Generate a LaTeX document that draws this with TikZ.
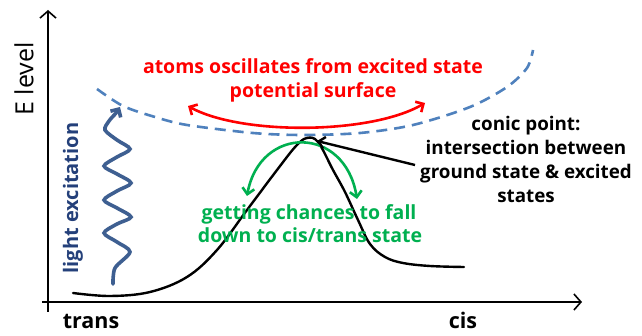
\documentclass[tikz,border=0pt]{standalone}
\usepackage{fontspec}
\setmainfont{Open Sans}
\usetikzlibrary{arrows.meta}
\definecolor{cred}{RGB}{255,0,0}
\definecolor{cgreen}{RGB}{0,176,80}
\definecolor{cdash}{RGB}{79,129,189}
\definecolor{cwave}{RGB}{62,95,145}
\definecolor{cnavy}{RGB}{36,64,122}
\begin{document}
\begin{tikzpicture}[x=1pt,y=-1pt,
  txt/.style={font=\fontsize{19.5}{24}\selectfont\bfseries, inner sep=0pt, anchor=base},
  btxt/.style={font=\fontsize{18.8}{24}\selectfont\bfseries, inner sep=0pt, anchor=base},
  axtxt/.style={font=\fontsize{21.5}{26}\selectfont\bfseries, inner sep=0pt, anchor=base},
  axisline/.style={line width=1.6pt, black},
  axisarrow/.style={axisline, -{Straight Barb[length=7pt,width=16pt,line width=1.6pt]}},
  curveline/.style={line width=2.4pt, black, line cap=round},
  surface/.style={line width=2.6pt, cdash, dash pattern=on 11pt off 7pt},
  redarrow/.style={line width=2.6pt, cred, {Straight Barb[length=6pt,width=12pt]}-{Straight Barb[length=6pt,width=12pt]}},
  greenarrow/.style={line width=2.6pt, cgreen, {Straight Barb[length=6pt,width=12pt]}-{Straight Barb[length=6pt,width=12pt]}},
  blackarrow/.style={line width=2.4pt, black, -{Straight Barb[length=6pt,width=12pt]}},
  wave/.style={line width=3.6pt, cwave, line cap=round, -{Straight Barb[length=6pt,width=12pt]}}
]
\useasboundingbox (0,0) rectangle (642,336);
\fill[white] (0,0) rectangle (642,336);

% axes
\coordinate (ybot) at (48,312);
\coordinate (ytop) at (48,10);
\coordinate (xleft) at (42,302);
\coordinate (xright) at (582,302);
\draw[axisarrow] (ybot) -- (ytop);
\draw[axisarrow] (xleft) -- (xright);

% axis labels
\node[font=\fontsize{25}{28}\selectfont, inner sep=0pt, rotate=90] (elevel) at (24,79) {E level};
\node[axtxt] (trans) at (91,329) {trans};
\node[axtxt] (cis) at (463,329) {cis};

% excited state surface
\draw[surface] plot[smooth] coordinates {(97,89) (123,106) (155,117) (187,125) (253,133) (303,135) (360,133) (413,125) (470,107) (507,87) (527,68) (533,50)};

% ground state curve
\draw[curveline] plot[smooth, tension=0.6] coordinates {(73,293) (110,296) (150,292) (187,277) (217,250) (247,210) (277,170) (296,146) (307,138) (318,142) (333,170) (345,192) (358,220) (370,244) (385,257) (403,263) (430,266) (464,267)};

% red oscillation arrow
\coordinate (rl) at (188,106);
\coordinate (rr) at (425,103);
\draw[redarrow] (rl) .. controls (240,135) and (370,135) .. (rr);
\node[txt, text=cred] (red1) at (313,74) {atoms oscillates from excited state};
\node[txt, text=cred] (red2) at (313,98) {potential surface};

% green arrow
\coordinate (gl) at (247,196);
\coordinate (gr) at (357,199);
\draw[greenarrow] (gl) .. controls (260,125) and (345,125) .. (gr);
\node[txt, text=cgreen] (green1) at (309,220) {getting chances to fall};
\node[txt, text=cgreen] (green2) at (310,243) {down to cis/trans state};

% conic point
\coordinate (cs) at (415,165);
\coordinate (cp) at (317,141);
\draw[blackarrow] (cs) -- (cp);
\node[btxt] (c1) at (526,131) {conic point:};
\node[btxt] (c2) at (526,155) {intersection between};
\node[btxt] (c3) at (526,179) {ground state \& excited};
\node[btxt] (c4) at (526,203) {states};

% light excitation wave
\draw[wave] plot[smooth] coordinates {(113,284) (115,268) (130,252) (117,242) (104,233) (117,224) (131,217) (117,208) (104,200) (117,191) (131,183) (117,174) (104,166) (117,157) (130,149) (117,140) (105,130) (109,121) (116,113) (120,107)};
\node[font=\fontsize{20}{24}\selectfont\bfseries, text=cnavy, inner sep=0pt, rotate=90] (light) at (73,198) {light excitation};
\end{tikzpicture}
\end{document}
